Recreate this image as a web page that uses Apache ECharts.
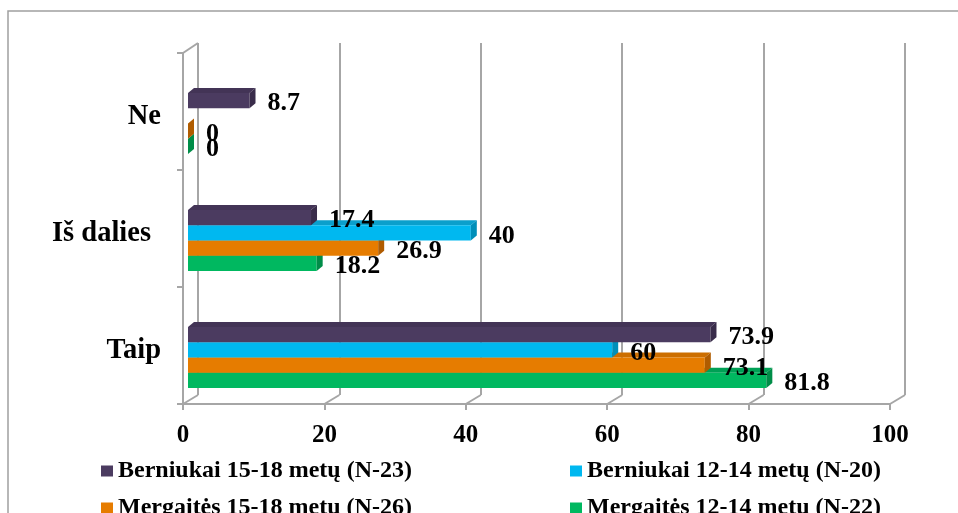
<!DOCTYPE html>
<html>
<head>
<meta charset="utf-8">
<script src="https://cdn.jsdelivr.net/npm/echarts@6/dist/echarts.min.js"></script>
<style>
  html, body { margin: 0; padding: 0; background: #fff; }
  #chart { width: 958px; height: 513px; }
</style>
</head>
<body>
<div id="chart"></div>
<script>
// kategorijos (nuo apačios į viršų)
const categories = ['Taip', 'Iš dalies', 'Ne'];
const seriesNames = [
  'Berniukai 15-18 metų (N-23)',
  'Berniukai 12-14 metų (N-20)',
  'Mergaitės 15-18 metų (N-26)',
  'Mergaitės 12-14 metų (N-22)'
];
const boys1518 = [73.9, 17.4, 8.7];
const boys1214 = [60, 40, null];
const girls1518 = [73.1, 26.9, 0];
const girls1214 = [81.8, 18.2, 0];
const xTicks = [0, 20, 40, 60, 80, 100];

// spalvos: priekis, viršus, šonas
const colors = [
  ['#4b3b60', '#433456', '#392c4a'],
  ['#00b8f0', '#0a9fcc', '#008fb9'],
  ['#e67c00', '#cc6e00', '#b05c00'],
  ['#00b860', '#00a055', '#008d48']
];
const font = '"Liberation Serif", "Times New Roman", serif';
const frameColor = '#a6a6a6';
const barH = 15.3;
const dx = 6, dy = 5;

function barSeries(idx, values) {
  const c = colors[idx];
  const data = [];
  values.forEach((v, i) => { if (v !== null) data.push([v, i]); });
  return {
    name: seriesNames[idx],
    type: 'custom',
    xAxisIndex: 1,
    yAxisIndex: 1,
    z: 10 - idx,
    itemStyle: { color: c[0] },
    data: data,
    renderItem: function (params, api) {
      const v = api.value(0);
      const cat = api.value(1);
      const base = api.coord([0, cat]);
      const end = api.coord([v, cat]);
      const y0 = base[1] - 2 * barH + idx * barH;
      const x0 = base[0], x1 = end[0];
      return {
        type: 'group',
        children: [
          { type: 'polygon', shape: { points: [[x0, y0], [x0 + dx, y0 - dy], [x1 + dx, y0 - dy], [x1, y0]] }, style: { fill: c[1] } },
          { type: 'rect', shape: { x: x0, y: y0, width: x1 - x0, height: barH }, style: { fill: c[0] } },
          { type: 'polygon', shape: { points: [[x1, y0], [x1 + dx, y0 - dy], [x1 + dx, y0 + barH - dy], [x1, y0 + barH]] }, style: { fill: c[2] } },
          { type: 'text', x: x1 + dx + 12, y: y0 + barH / 2 + 3, style: { text: String(v), fill: '#000', font: 'bold 26px ' + font, verticalAlign: 'middle', align: 'left' } }
        ]
      };
    }
  };
}

function legendItem(idx, left, top) {
  return {
    data: [seriesNames[idx]],
    left: left, top: top,
    itemWidth: 12, itemHeight: 11, icon: 'rect',
    textStyle: { color: '#000', fontFamily: font, fontWeight: 'bold', fontSize: 24 }
  };
}

const chart = echarts.init(document.getElementById('chart'));
const option = {
  animation: false,
  backgroundColor: '#fff',
  graphic: [{
    type: 'polyline',
    shape: { points: [[8, 513], [8, 11], [958, 11]] },
    style: { stroke: '#a0a0a0', lineWidth: 1.5, fill: null },
    silent: true
  }],
  grid: [
    { left: 183, right: 68, top: 53, bottom: 109 },   // priekinė plokštuma
    { left: 188, right: 63, top: 65, bottom: 97 },    // stulpeliai
    { left: 198, right: 53, top: 43, bottom: 118 }    // galinė siena
  ],
  xAxis: [
    {
      gridIndex: 0, type: 'value', min: 0, max: 100, interval: 20,
      axisLine: { show: true, lineStyle: { color: frameColor, width: 2 } },
      axisTick: { show: true, length: 6, lineStyle: { color: frameColor, width: 2 } },
      axisLabel: { color: '#000', fontFamily: font, fontWeight: 'bold', fontSize: 25, margin: 19 },
      splitLine: { show: false }
    },
    { gridIndex: 1, type: 'value', min: 0, max: 100, show: false },
    {
      gridIndex: 2, type: 'value', min: 0, max: 100, interval: 20,
      axisLine: { show: false }, axisTick: { show: false }, axisLabel: { show: false },
      splitLine: { show: true, lineStyle: { color: frameColor, width: 2 } }
    }
  ],
  yAxis: [
    {
      gridIndex: 0, type: 'category', data: categories,
      axisLine: { show: true, lineStyle: { color: frameColor, width: 2 } },
      axisTick: { show: true, length: 6, lineStyle: { color: frameColor, width: 2 } },
      axisLabel: {
        color: '#000', fontFamily: font, fontWeight: 'bold', fontSize: 28.5, margin: 22,
        padding: [10, 0, 0, 0],
        formatter: v => v === 'Iš dalies' ? '{p|' + v + '}' : v,
        rich: { p: { fontFamily: font, fontWeight: 'bold', fontSize: 28.5, color: '#000', padding: [0, 10, 0, 0] } }
      }
    },
    { gridIndex: 1, type: 'category', data: categories, show: false },
    { gridIndex: 2, type: 'value', show: false }
  ],
  legend: [
    legendItem(0, 96, 454),
    legendItem(1, 565, 454),
    legendItem(2, 96, 491),
    legendItem(3, 565, 491)
  ],
  series: [
    barSeries(0, boys1518),
    barSeries(1, boys1214),
    barSeries(2, girls1518),
    barSeries(3, girls1214),
    {
      // grindų įstrižainės tarp priekio ir galinės sienos
      type: 'custom',
      xAxisIndex: 0,
      yAxisIndex: 0,
      silent: true,
      z: 1,
      data: xTicks.map(t => [t, 0]),
      renderItem: function (params, api) {
        const cs = params.coordSys;
        const x = api.coord([api.value(0), 0])[0];
        const yb = cs.y + cs.height;
        const children = [{
          type: 'line',
          shape: { x1: x, y1: yb, x2: x + 15, y2: yb - 9 },
          style: { stroke: frameColor, lineWidth: 2 }
        }];
        if (api.value(0) === 0) {
          children.push({
            type: 'line',
            shape: { x1: x, y1: cs.y, x2: x + 15, y2: cs.y - 10 },
            style: { stroke: frameColor, lineWidth: 2 }
          });
        }
        return { type: 'group', children: children };
      }
    }
  ]
};
chart.setOption(option);
window.addEventListener('resize', () => chart.resize());
</script>
</body>
</html>
